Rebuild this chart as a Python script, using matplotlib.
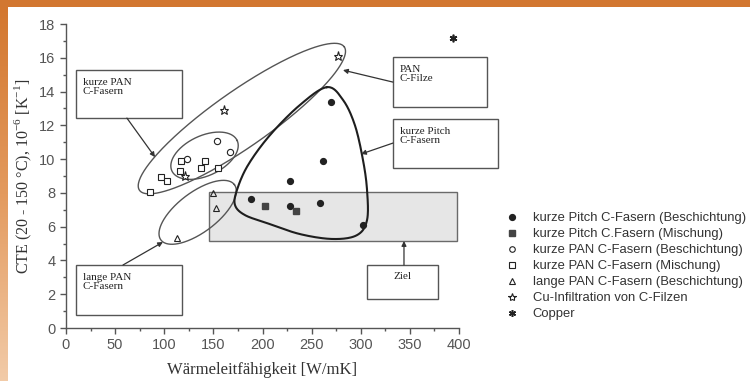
import numpy as np
import matplotlib
matplotlib.use("Agg")
import matplotlib.pyplot as plt
from matplotlib.patches import Rectangle
from matplotlib.lines import Line2D

# Messwerte: Wärmeleitfähigkeit [W/mK] und CTE [1e-6/K]
pitch_besch_x = [270, 262, 228, 188, 228, 259, 302]
pitch_besch_y = [13.4, 9.9, 8.7, 7.65, 7.2, 7.4, 6.1]
pitch_misch_x = [203, 234]
pitch_misch_y = [7.2, 6.9]
pan_besch_x = [154, 167, 123]
pan_besch_y = [11.1, 10.4, 10.0]
pan_misch_x = [117, 141, 137, 155, 116, 97, 103, 86]
pan_misch_y = [9.9, 9.9, 9.45, 9.5, 9.3, 8.95, 8.7, 8.05]
lange_pan_x = [150, 153, 113]
lange_pan_y = [8.0, 7.1, 5.3]
cu_filz_x = [277, 161, 121]
cu_filz_y = [16.1, 12.9, 9.0]
copper_x = [394]
copper_y = [17.15]

labels = [
    "kurze Pitch C-Fasern (Beschichtung)",
    "kurze Pitch C.Fasern (Mischung)",
    "kurze PAN C-Fasern (Beschichtung)",
    "kurze PAN C-Fasern (Mischung)",
    "lange PAN C-Fasern (Beschichtung)",
    "Cu-Infiltration von C-Filzen",
    "Copper",
]

# Zielbereich
ziel_x = (146, 398)
ziel_y = (5.15, 8.05)

fig = plt.figure(figsize=(7.5, 3.81), dpi=100)
fig.patch.set_facecolor("white")
ax = fig.add_axes([66 / 750, 1 - 328 / 381, 393 / 750, 304 / 381])
ax.set_xlim(0, 400)
ax.set_ylim(0, 18)

# Rahmen oben und links
fig.patches.append(Rectangle((0, 1 - 7 / 381), 1, 7 / 381, transform=fig.transFigure,
                             facecolor="#d27730", edgecolor="none", zorder=0))
side = fig.add_axes([0, 0, 7 / 750, 1 - 7 / 381])
grad = np.linspace(0, 1, 256)[:, None]
side.imshow(grad, aspect="auto", cmap=matplotlib.colors.LinearSegmentedColormap.from_list(
    "rand", ["#d3772f", "#e39a5e", "#f2cba8"]), extent=[0, 1, 0, 1])
side.axis("off")

ink = "#222222"
edge = "#555555"

ax.add_patch(Rectangle((ziel_x[0], ziel_y[0]), ziel_x[1] - ziel_x[0], ziel_y[1] - ziel_y[0],
                       facecolor="#e6e6e6", edgecolor="#6a6a6a", lw=1.0, zorder=1))

fig.canvas.draw()
p0 = ax.transData.transform((0, 0))
sx = ax.transData.transform((1, 0))[0] - p0[0]
sy = ax.transData.transform((0, 1))[1] - p0[1]


def ellipse(cx, cy, a, b, ang, **kw):
    # a, b in Pixeln, Winkel auf dem Bildschirm
    t = np.linspace(0, 2 * np.pi, 300)
    th = np.radians(ang)
    dx = a * np.cos(t) * np.cos(th) - b * np.sin(t) * np.sin(th)
    dy = a * np.cos(t) * np.sin(th) + b * np.sin(t) * np.cos(th)
    ax.plot(cx + dx / sx, cy + dy / sy, clip_on=False, **kw)


ellipse(179, 12.4, 125, 28, 35, color="#555555", lw=1.0, zorder=2)
ellipse(141, 10.2, 36, 20, 25, color="#555555", lw=1.0, zorder=2)
ellipse(134, 6.85, 46, 20, 37, color="#555555", lw=1.0, zorder=2)

# Tropfenform um kurze Pitch-Fasern (Catmull-Rom)
drop = np.array([
    (265.6, 14.26), (238, 13.2), (207.6, 11.42), (185.2, 9.64), (174, 8.17),
    (172, 7.28), (182, 6.69), (204.6, 6.21), (238.2, 5.56), (271.8, 5.27),
    (296.2, 5.5), (306.4, 6.39), (306.4, 8.17), (302.3, 9.94), (294.1, 12.0),
    (282, 13.5),
])
P = np.column_stack([drop[:, 0] * sx, drop[:, 1] * sy])
n = len(P)
pts = []
for i in range(n):
    a0, a1, a2, a3 = P[i - 1], P[i], P[(i + 1) % n], P[(i + 2) % n]
    for s in np.linspace(0, 1, 20, endpoint=False):
        pts.append(0.5 * ((2 * a1) + (-a0 + a2) * s + (2 * a0 - 5 * a1 + 4 * a2 - a3) * s ** 2
                          + (-a0 + 3 * a1 - 3 * a2 + a3) * s ** 3))
pts.append(pts[0])
pts = np.array(pts)
ax.plot(pts[:, 0] / sx, pts[:, 1] / sy, color="#1e1e1e", lw=1.5, zorder=2)

# Messpunkte
ax.plot(pitch_besch_x, pitch_besch_y, "o", ms=4.2, color=ink, ls="none", zorder=4)
ax.plot(pitch_misch_x, pitch_misch_y, "s", ms=4.0, color="#444444", ls="none", zorder=4)
ax.plot(pan_besch_x, pan_besch_y, "o", ms=4.5, mfc="white", mec=ink, mew=0.8, ls="none", zorder=4)
ax.plot(pan_misch_x, pan_misch_y, "s", ms=4.3, mfc="white", mec=ink, mew=0.8, ls="none", zorder=4)
ax.plot(lange_pan_x, lange_pan_y, "^", ms=5.0, mfc="none", mec=ink, mew=0.8, ls="none", zorder=4)
ax.plot(cu_filz_x, cu_filz_y, "*", ms=6.5, mfc="white", mec=ink, mew=0.8, ls="none", zorder=4)
ax.plot(copper_x, copper_y, marker=(6, 2, 0), ms=5.5, color=ink, mew=1.2, ls="none", zorder=4)

# Beschriftungskästen mit Pfeilen
boxes = [
    ("kurze PAN\nC-Fasern", (10.2, 12.43, 107.9, 2.84), (62, 12.43), (90.6, 10.12)),
    ("PAN\nC-Filze", (332.8, 13.08, 95.7, 2.96), (332.8, 14.56), (281.9, 15.27)),
    ("kurze Pitch\nC-Fasern", (332.8, 9.47, 106.9, 2.9), (332.8, 10.95), (300.3, 10.3)),
    ("lange PAN\nC-Fasern", (10.2, 0.77, 107.9, 2.96), (58, 3.73), (98.7, 5.09)),
]
for txt, (bx, by, bw, bh), start, tip in boxes:
    ax.add_patch(Rectangle((bx, by), bw, bh, facecolor="white", edgecolor=edge, lw=1.0,
                           clip_on=False, zorder=3))
    ax.text(bx + 7, by + bh - 0.45, txt, ha="left", va="top", fontsize=8,
            family="Liberation Serif", color=ink, linespacing=1.1, zorder=5, clip_on=False)
    ax.annotate("", xy=tip, xytext=start, annotation_clip=False,
                arrowprops=dict(arrowstyle="-|>", color="#333333", lw=0.9,
                                mutation_scale=7, shrinkA=0, shrinkB=0), zorder=3)

ax.add_patch(Rectangle((306.4, 1.72), 72.2, 2.01, facecolor="white", edgecolor=edge, lw=1.0,
                       clip_on=False, zorder=3))
ax.text(342.5, 3.3, "Ziel", ha="center", va="top", fontsize=8, family="Liberation Serif",
        color=ink, zorder=5)
ax.annotate("", xy=(344, ziel_y[0]), xytext=(344, 3.73), annotation_clip=False,
            arrowprops=dict(arrowstyle="-|>", color="#333333", lw=0.9,
                            mutation_scale=7, shrinkA=0, shrinkB=0))

# Achsen
for s in ("top", "right"):
    ax.spines[s].set_visible(False)
for s in ("left", "bottom"):
    ax.spines[s].set_color(edge)
    ax.spines[s].set_linewidth(1.0)
ax.set_xticks(np.arange(0, 401, 50))
ax.set_xticks(np.arange(0, 401, 25), minor=True)
ax.set_yticks(np.arange(0, 19, 2))
ax.set_yticks(np.arange(0, 19, 1), minor=True)
ax.tick_params(which="both", direction="out", color=edge, labelcolor="#555555",
               labelsize=10.5)
ax.tick_params(which="major", length=4, width=1)
ax.tick_params(which="minor", length=2.5, width=1)
for lab in ax.get_xticklabels() + ax.get_yticklabels():
    lab.set_family("Liberation Sans")

ax.set_xlabel("Wärmeleitfähigkeit [W/mK]", family="Liberation Serif", fontsize=12,
              color="#333333", labelpad=7)
ax.set_ylabel(r"CTE (20 - 150 °C), 10$^{\mathregular{-6}}$ [K$^{\mathregular{-1}}$]",
              family="Liberation Serif", fontsize=11.5, color="#333333", labelpad=4)

handles = [
    Line2D([], [], marker="o", ms=4.2, color=ink, ls="none"),
    Line2D([], [], marker="s", ms=3.8, color="#444444", ls="none"),
    Line2D([], [], marker="o", ms=4.0, mfc="white", mec=ink, mew=0.8, ls="none"),
    Line2D([], [], marker="s", ms=4.0, mfc="white", mec=ink, mew=0.8, ls="none"),
    Line2D([], [], marker="^", ms=4.5, mfc="none", mec=ink, mew=0.8, ls="none"),
    Line2D([], [], marker="*", ms=6, mfc="white", mec=ink, mew=0.8, ls="none"),
    Line2D([], [], marker=(6, 2, 0), ms=5, color=ink, mew=1.1, ls="none"),
]
leg = fig.legend(handles, labels, loc="upper left", bbox_to_anchor=(504 / 750, 1 - 212 / 381),
                 frameon=False, handlelength=1.2, handletextpad=1.0,
                 labelspacing=0.3, borderaxespad=0, borderpad=0,
                 prop={"family": "Liberation Sans", "size": 9.4})
for t in leg.get_texts():
    t.set_color("#333333")

fig.savefig("out.png", dpi=100)
